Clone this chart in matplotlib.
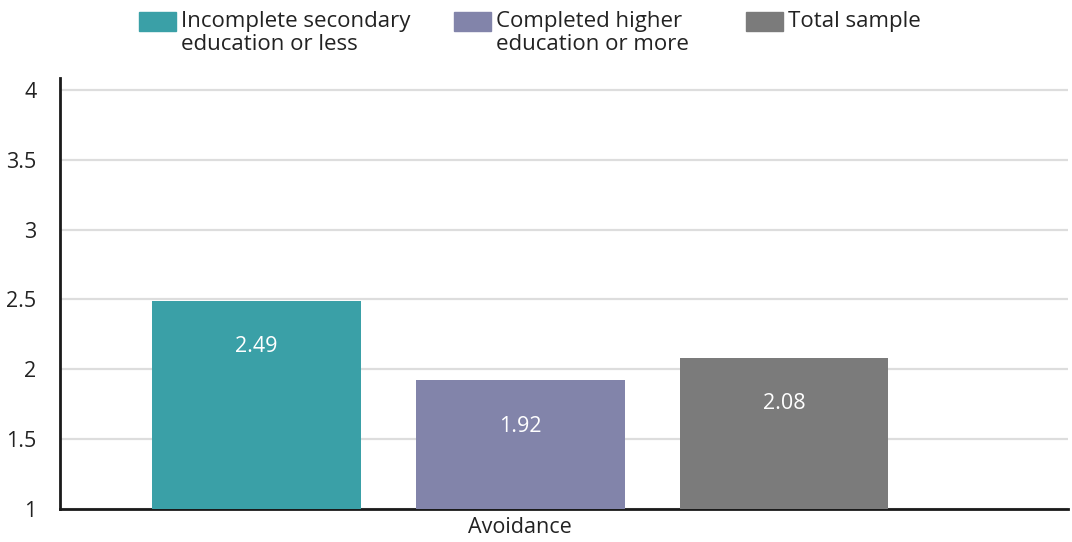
import matplotlib
matplotlib.use('Agg')
import matplotlib.pyplot as plt
from matplotlib.patches import Rectangle

# data
groups = ['Incomplete secondary\neducation or less', 'Completed higher\neducation or more', 'Total sample']
values = [2.49, 1.92, 2.08]
category = 'Avoidance'
bar_colors = ['#3aa0a7', '#8284aa', '#7b7b7b']

plt.rcParams['font.family'] = ['Open Sans', 'DejaVu Sans']
text_col = '#222222'

fig = plt.figure(figsize=(10.72, 5.42), dpi=100)
ax = fig.add_axes([60/1072, 1 - 509/542, 1008/1072, (509 - 78)/542])

x = [-1, 0, 1]
bars = ax.bar(x, [v - 1 for v in values], bottom=1, width=0.79, color=bar_colors, zorder=3)
for xi, v in zip(x, values):
    ax.annotate(f'{v:.2f}', xy=(xi, v), xytext=(0, -33), textcoords='offset points',
                ha='center', va='center', color='white', fontsize=15.5)

ax.set_xlim(-1.745, 2.076)
ax.set_ylim(1, 4.085)
ax.set_yticks([1, 1.5, 2, 2.5, 3, 3.5, 4])
ax.set_yticklabels(['1', '1.5', '2', '2.5', '3', '3.5', '4'])
ax.set_xticks([0])
ax.set_xticklabels([category])
ax.tick_params(axis='both', length=0, labelsize=15.5, colors=text_col)
ax.tick_params(axis='y', pad=17)
ax.tick_params(axis='x', pad=6)
ax.grid(axis='y', color='#dddddd', linewidth=1.6, zorder=0)
for s in ['top', 'right']:
    ax.spines[s].set_visible(False)
for s in ['left', 'bottom']:
    ax.spines[s].set_linewidth(2)
    ax.spines[s].set_color('#1a1a1a')

# legend drawn by hand so the swatch sits on the first text line
leg_x = [139, 454, 746]
for lx, lab, c in zip(leg_x, groups, bar_colors):
    fig.add_artist(Rectangle((lx/1072, 1 - 31/542), 37/1072, 19/542,
                             transform=fig.transFigure, color=c))
    fig.text((lx + 42)/1072, 1 - 11/542, lab, ha='left', va='top',
             fontsize=16, color=text_col, linespacing=1.15)

fig.savefig('out.png', dpi=100)
